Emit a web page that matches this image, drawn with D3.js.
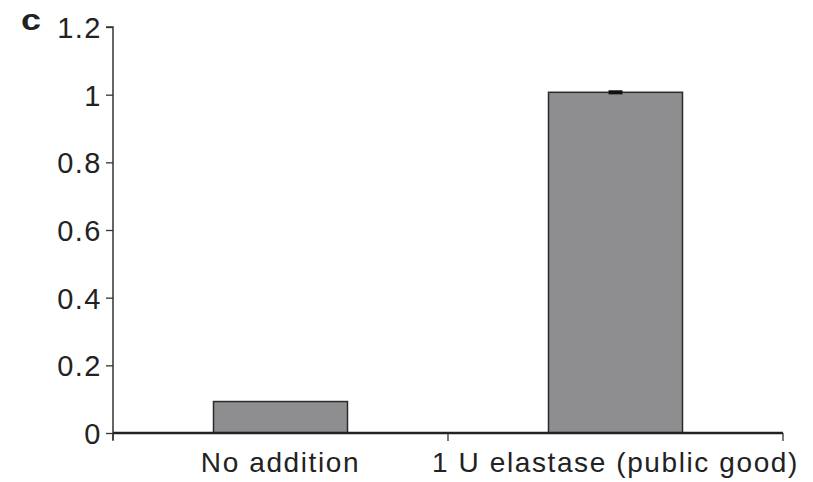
<!DOCTYPE html>
<html>
<head>
<meta charset="utf-8">
<script src="https://cdn.jsdelivr.net/npm/d3@7"></script>
<style>
  body { margin: 0; background: #fff; }
  text { font-family: "Liberation Sans", Arial, sans-serif; fill: #222; }
</style>
</head>
<body>
<script>
"use strict";
const categories = ["No addition", "1 U elastase (public good)"];
const values = [0.093, 1.007];
const errors = [0, 0.006];
const yTicks = [0, 0.2, 0.4, 0.6, 0.8, 1, 1.2];

(function(){
    const measurements = {
        width: 813,
        height: 482,
        left: 113,
        right: 783,
        top: 27,
        bottom: 433
    };

    const svg = d3.select("body").append("svg")
        .attr("width", measurements.width)
        .attr("height", measurements.height);

    const scaleX = d3.scaleBand()
        .domain(categories)
        .range([measurements.left, measurements.right])
        .padding(0);

    const scaleY = d3.scaleLinear()
        .domain([0, 1.2])
        .range([measurements.bottom, measurements.top]);

    const barW = scaleX.bandwidth() * 0.4;

    // bars
    svg.selectAll("rect.bar")
        .data(values)
        .enter()
        .append("rect")
        .attr("class", "bar")
        .attr("x", (d, i) => scaleX(categories[i]) + (scaleX.bandwidth() - barW) / 2)
        .attr("y", d => scaleY(d))
        .attr("width", barW)
        .attr("height", d => scaleY(0) - scaleY(d))
        .attr("fill", "#8e8e90")
        .attr("stroke", "#2a2a2a")
        .attr("stroke-width", 1.5);

    // error bars (tiny caps)
    svg.selectAll("rect.err")
        .data(values.map((v, i) => ({v: v, e: errors[i], c: categories[i]})).filter(d => d.e > 0))
        .enter()
        .append("rect")
        .attr("class", "err")
        .attr("x", d => scaleX(d.c) + scaleX.bandwidth() / 2 - 7)
        .attr("y", d => scaleY(d.v + d.e))
        .attr("width", 14)
        .attr("height", d => Math.max(3, scaleY(d.v - d.e) - scaleY(d.v + d.e)))
        .attr("fill", "#111");

    // y axis
    const yAxis = d3.axisLeft(scaleY)
        .tickValues(yTicks)
        .tickSize(7)
        .tickPadding(4)
        .tickFormat(d => d3.format("")(d));

    const gy = svg.append("g")
        .attr("transform", `translate(${measurements.left},0)`)
        .call(yAxis);
    gy.select(".domain").attr("stroke", "#333").attr("stroke-width", 1.5)
        .attr("d", `M-7,${measurements.top}H0V${measurements.bottom + 7}`);
    gy.selectAll(".tick line").attr("stroke", "#333").attr("stroke-width", 1.3);
    gy.selectAll(".tick text")
        .style("font-size", "29px")
        .style("letter-spacing", "1.5px")
        .attr("dy", "0.36em");

    // x axis with ticks at category boundaries
    const gx = svg.append("g")
        .attr("transform", `translate(0,${measurements.bottom})`);
    gx.append("line")
        .attr("x1", measurements.left).attr("x2", measurements.right)
        .attr("y1", 0).attr("y2", 0)
        .attr("stroke", "#222").attr("stroke-width", 2.5);
    const bounds = [measurements.left].concat(categories.map(c => scaleX(c) + scaleX.bandwidth()));
    gx.selectAll("line.bt")
        .data(bounds)
        .enter()
        .append("line")
        .attr("class", "bt")
        .attr("x1", d => d).attr("x2", d => d)
        .attr("y1", 0).attr("y2", 8)
        .attr("stroke", "#333").attr("stroke-width", 1.3);
    gx.selectAll("text.cat")
        .data(categories)
        .enter()
        .append("text")
        .attr("class", "cat")
        .attr("x", d => scaleX(d) + scaleX.bandwidth() / 2)
        .attr("y", 39)
        .attr("text-anchor", "middle")
        .style("font-size", "28px")
        .style("letter-spacing", "1.6px")
        .text(d => d);

    // panel letter
    svg.append("text")
        .attr("transform", "translate(21,30) scale(1.2,1)")
        .style("font-size", "30px")
        .style("font-weight", "bold")
        .text("c");
})();
</script>
</body>
</html>
